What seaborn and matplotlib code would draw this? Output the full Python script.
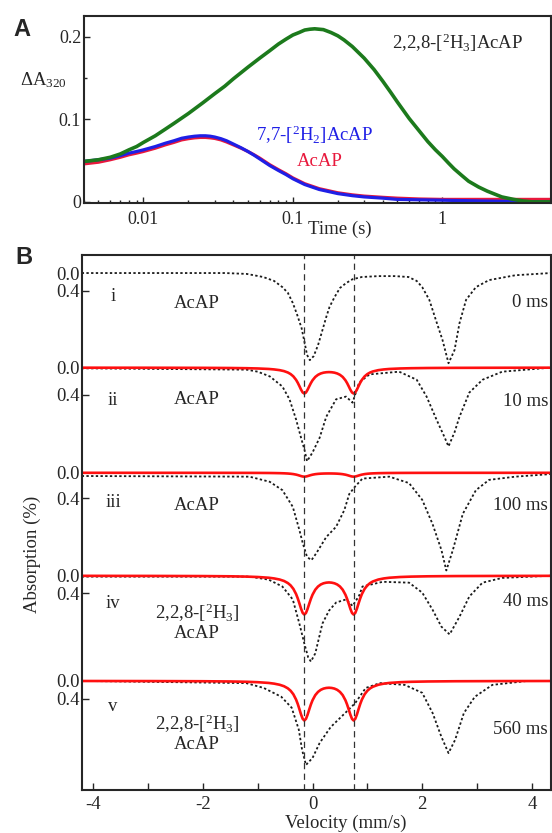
import matplotlib.pyplot as plt
import seaborn as sns

# ---- panel A: stopped-flow traces (time in s, dA320) ----
t_fast = [0.004, 0.005, 0.006, 0.007, 0.008, 0.009, 0.01, 0.012, 0.014, 0.016, 0.018,
          0.02, 0.022, 0.024, 0.026, 0.028, 0.03, 0.033, 0.036, 0.04, 0.045, 0.05, 0.055,
          0.06, 0.07, 0.08, 0.09, 0.1, 0.12, 0.15, 0.2, 0.25, 0.3, 0.4, 0.5, 0.7, 1.0,
          2.0, 5.3]
a_h2 = [0.049, 0.051, 0.053, 0.056, 0.059, 0.061, 0.063, 0.067, 0.071, 0.074, 0.077,
        0.0785, 0.0795, 0.080, 0.080, 0.0795, 0.0785, 0.0765, 0.074, 0.070, 0.0655, 0.061,
        0.0565, 0.052, 0.044, 0.038, 0.033, 0.028, 0.021, 0.015, 0.010, 0.0075, 0.006,
        0.0045, 0.003, 0.0025, 0.002, 0.001, 0.0]
a_acap = [0.046, 0.048, 0.051, 0.054, 0.057, 0.059, 0.061, 0.065, 0.069, 0.072, 0.075,
          0.0765, 0.0775, 0.078, 0.078, 0.0775, 0.0768, 0.075, 0.0725, 0.069, 0.065, 0.061,
          0.057, 0.053, 0.045, 0.039, 0.034, 0.029, 0.022, 0.016, 0.011, 0.0085, 0.007,
          0.0055, 0.0045, 0.0035, 0.003, 0.003, 0.003]
t_slow = [0.004, 0.0045, 0.005, 0.006, 0.007, 0.008, 0.009, 0.01, 0.012, 0.014, 0.016,
          0.02, 0.025, 0.03, 0.035, 0.04, 0.05, 0.06, 0.07, 0.08, 0.09, 0.1, 0.11, 0.12,
          0.13, 0.14, 0.16, 0.18, 0.2, 0.22, 0.25, 0.3, 0.35, 0.4, 0.45, 0.5, 0.6, 0.7,
          0.8, 0.9, 1.0, 1.1, 1.2, 1.35, 1.5, 1.75, 2.0, 2.5, 3.0, 3.5, 4.0, 5.3]
a_h3 = [0.049, 0.050, 0.051, 0.054, 0.058, 0.063, 0.067, 0.072, 0.080, 0.088, 0.095,
        0.107, 0.120, 0.131, 0.140, 0.149, 0.163, 0.174, 0.183, 0.191, 0.197, 0.202, 0.205,
        0.208, 0.209, 0.2095, 0.2085, 0.205, 0.201, 0.196, 0.188, 0.174, 0.160, 0.146,
        0.133, 0.121, 0.101, 0.086, 0.073, 0.063, 0.055, 0.047, 0.040, 0.032, 0.025,
        0.018, 0.013, 0.006, 0.003, 0.001, 0.0, 0.0]

# ---- panel B: Mossbauer spectra (velocity mm/s, absorption %) ----
vel_i = [-4.21, -1.6, -1.2, -0.9, -0.7, -0.55, -0.45, -0.36, -0.28, -0.2, -0.15, -0.1,
         -0.05, 0.02, 0.1, 0.18, 0.25, 0.31, 0.4, 0.5, 0.61, 0.73, 0.9, 1.2, 1.5, 1.75,
         1.9, 2.0, 2.13, 2.25, 2.37, 2.48, 2.59, 2.68, 2.8, 2.98, 3.22, 3.7, 4.34]
abs_i = [0.0, 0.0, 0.02, 0.09, 0.18, 0.32, 0.45, 0.68, 0.95, 1.25, 1.55, 1.86, 1.98,
         1.89, 1.64, 1.30, 1.0, 0.77, 0.55, 0.34, 0.23, 0.14, 0.09, 0.07, 0.07, 0.09,
         0.18, 0.32, 0.61, 1.07, 1.52, 2.05, 1.75, 1.14, 0.61, 0.32, 0.16, 0.05, 0.0]
vel_ii = [-4.21, -1.2, -1.0, -0.78, -0.55, -0.42, -0.3, -0.2, -0.15, -0.1, 0.0, 0.13,
          0.25, 0.43, 0.61, 0.73, 0.85, 1.04, 1.58, 1.9, 2.08, 2.26, 2.4, 2.48, 2.59,
          2.68, 2.86, 3.1, 3.46, 4.34]
abs_ii = [0.01, 0.03, 0.06, 0.13, 0.28, 0.47, 0.77, 1.07, 1.21, 1.39, 1.26, 1.04, 0.73,
          0.47, 0.43, 0.52, 0.22, 0.10, 0.06, 0.18, 0.43, 0.77, 1.02, 1.17, 0.96, 0.73,
          0.37, 0.18, 0.06, 0.0]
vel_iii = [-4.21, -1.15, -0.78, -0.55, -0.36, -0.24, -0.18, -0.1, -0.02, 0.07, 0.25,
           0.43, 0.58, 0.67, 0.77, 0.91, 1.4, 1.76, 2.0, 2.19, 2.35, 2.44, 2.56, 2.74,
           2.98, 3.22, 3.7, 4.34]
abs_iii = [0.05, 0.06, 0.14, 0.27, 0.53, 0.89, 1.09, 1.31, 1.36, 1.25, 1.0, 0.84, 0.58,
           0.33, 0.22, 0.09, 0.06, 0.16, 0.42, 0.8, 1.2, 1.52, 1.2, 0.64, 0.27, 0.11,
           0.06, 0.02]
vel_iv = [-4.21, -1.15, -0.8, -0.55, -0.36, -0.24, -0.15, -0.08, -0.03, 0.05, 0.18, 0.3,
          0.43, 0.61, 0.73, 0.85, 0.91, 1.28, 1.76, 2.0, 2.19, 2.35, 2.5, 2.68, 2.86,
          3.1, 3.46, 4.34]
abs_iv = [0.02, 0.02, 0.09, 0.25, 0.55, 1.11, 1.57, 1.89, 1.99, 1.8, 1.11, 0.81, 0.62,
          0.55, 0.7, 0.46, 0.25, 0.14, 0.16, 0.39, 0.79, 1.18, 1.36, 0.95, 0.48, 0.16,
          0.05, 0.0]
vel_v = [-4.21, -1.21, -0.89, -0.57, -0.38, -0.25, -0.19, -0.12, 0.0, 0.13, 0.33, 0.52,
         0.71, 0.78, 0.97, 1.23, 1.68, 2.0, 2.19, 2.35, 2.48, 2.6, 2.76, 2.96, 3.28,
         3.92, 4.34]
abs_v = [0.0, 0.05, 0.16, 0.36, 0.61, 1.11, 1.57, 1.91, 1.75, 1.41, 1.05, 0.82, 0.59,
         0.5, 0.16, 0.05, 0.09, 0.27, 0.73, 1.27, 1.64, 1.34, 0.73, 0.36, 0.09, 0.0, 0.0]

# red doublet (fit) profile, normalised to its deepest point
fit_v = [-4.21, -3, -2, -1.5, -1.2, -1.0, -0.8, -0.7, -0.6, -0.52, -0.45, -0.4, -0.35,
         -0.3, -0.27, -0.24, -0.21, -0.18, -0.15, -0.12, -0.09, -0.06, -0.03, 0.0, 0.05,
         0.1, 0.15, 0.2, 0.25, 0.3, 0.35, 0.4, 0.45, 0.5, 0.55, 0.6, 0.63, 0.66, 0.69,
         0.72, 0.75, 0.78, 0.81, 0.84, 0.87, 0.9, 0.95, 1.0, 1.05, 1.1, 1.2, 1.3, 1.4,
         1.6, 1.8, 2.1, 2.6, 3.5, 4.34]
fit_shape = [0.002, 0.004, 0.008, 0.014, 0.022, 0.032, 0.051, 0.069, 0.097, 0.134, 0.188,
             0.248, 0.337, 0.472, 0.581, 0.710, 0.846, 0.956, 1.0, 0.959, 0.852, 0.720,
             0.594, 0.488, 0.359, 0.277, 0.225, 0.194, 0.178, 0.172, 0.178, 0.194, 0.225,
             0.277, 0.359, 0.488, 0.594, 0.720, 0.852, 0.959, 1.0, 0.956, 0.846, 0.710,
             0.581, 0.472, 0.337, 0.248, 0.188, 0.147, 0.097, 0.069, 0.051, 0.032, 0.022,
             0.014, 0.008, 0.004, 0.002]

spectra = [(vel_i, abs_i), (vel_ii, abs_ii), (vel_iii, abs_iii), (vel_iv, abs_iv), (vel_v, abs_v)]
roman = ["i", "ii", "iii", "iv", "v"]
samples = ["AcAP", "AcAP", "AcAP", "2,2,8-[$^{2}$H$_{3}$]\nAcAP", "2,2,8-[$^{2}$H$_{3}$]\nAcAP"]
times = ["0 ms", "10 ms", "100 ms", "40 ms", "560 ms"]
fit_depth = [None, 0.385, 0.06, 0.9, 0.9]
offsets = [0.41, 2.56, 4.95, 7.29, 9.68]
gains = [1.0, 1.53, 1.46, 0.98, 1.0]
line_v = [-0.15, 0.75]

sns.set_style("ticks")
plt.rcParams["font.family"] = ["Liberation Serif", "DejaVu Serif"]
plt.rcParams["mathtext.fontset"] = "custom"
plt.rcParams["mathtext.rm"] = "Liberation Serif"
plt.rcParams["mathtext.it"] = "Liberation Serif:italic"
plt.rcParams["axes.unicode_minus"] = False
plt.rcParams["font.size"] = 13.5

W, H = 552, 833
fig = plt.figure(figsize=(W / 100, H / 100), dpi=100)


def box(l, t, r, b):
    return [l / W, 1 - b / H, (r - l) / W, (b - t) / H]


def ftext(x, y, s, **kw):
    fig.text(x / W, 1 - y / H, s, **kw)


red_a, blue_a, green_a = "#e8183c", "#1f1fe6", "#1c7a1c"

# panel A
axA = fig.add_axes(box(84, 16, 550.5, 202.7))
sns.lineplot(x=t_fast, y=a_acap, ax=axA, color=red_a, lw=2.3, sort=False, estimator=None)
sns.lineplot(x=t_fast, y=a_h2, ax=axA, color=blue_a, lw=2.3, sort=False, estimator=None)
sns.lineplot(x=t_slow, y=a_h3, ax=axA, color=green_a, lw=2.6, sort=False, estimator=None)
axA.set_xscale("log")
axA.set_xlim(0.004, 5.3)
axA.set_ylim(-0.001, 0.225)
axA.set_xticks([0.01, 0.1, 1])
axA.set_xticklabels(["0.01", "0.1", "1"])
axA.set_yticks([0, 0.1, 0.2])
axA.set_yticklabels(["0", "0.1", "0.2"])
axA.set_yticks([0.05, 0.15], minor=True)
axA.tick_params(which="both", direction="in", top=False, right=False, width=1, labelsize=13)
axA.tick_params(which="major", length=4.5)
axA.tick_params(which="minor", length=2.5)
axA.tick_params(axis="x", pad=6)
axA.tick_params(axis="y", pad=2)
axA.set_xlabel("")
axA.set_ylabel("")
for s in axA.spines.values():
    s.set_linewidth(1.5)

ftext(392, 43, r"2,2,8-[$^{2}$H$_{3}$]AcAP", ha="left", va="center")
ftext(315, 135, r"7,7-[$^{2}$H$_{2}$]AcAP", color=blue_a, ha="center", va="center")
ftext(320, 162, "AcAP", color=red_a, ha="center", va="center")
ftext(43, 80, r"ΔA$_{320}$", ha="center", va="center")
ftext(340, 229, "Time (s)", ha="center", va="center")
ftext(22, 29, "A", family="Liberation Sans", weight="bold", size=17, ha="center", va="center")
ftext(24, 258, "B", family="Liberation Sans", weight="bold", size=17, ha="center", va="center")

# panel B
axB = fig.add_axes(box(81.7, 255, 550.5, 790))
for k, (vel, ab) in enumerate(spectra):
    y = [offsets[k] + gains[k] * a for a in ab]
    sns.lineplot(x=vel, y=y, ax=axB, color="#1a1a1a", lw=1.3, sort=False, estimator=None,
                 linestyle=(0, (1.3, 1.3)))
for k, d in enumerate(fit_depth):
    if d is None:
        continue
    y = [offsets[k] + gains[k] * d * f for f in fit_shape]
    sns.lineplot(x=fit_v, y=y, ax=axB, color="#ff1010", lw=1.9, sort=False, estimator=None)
for v in line_v:
    axB.axvline(v, color="#333333", lw=0.9, linestyle=(0, (5, 3.5)))

axB.set_xlim(-4.21, 4.34)
axB.set_ylim(535 / 44, 0)
axB.set_xticks([-4, -2, 0, 2, 4])
axB.set_xticklabels(["-4", "-2", "0", "2", "4"])
axB.set_xticks([-3, -1, 1, 3], minor=True)
yt, yl = [], []
for k in range(len(offsets)):
    yt += [offsets[k], offsets[k] + 0.4 * gains[k]]
    yl += ["0.0", "0.4"]
axB.set_yticks(yt)
axB.set_yticklabels(yl)
axB.tick_params(which="both", direction="in", top=False, right=False, width=1,
                length=5, labelsize=13.5, pad=1.5)
axB.tick_params(axis="x", pad=4)
for i, tk in enumerate(axB.yaxis.get_major_ticks()):
    if i % 2 == 0:
        tk.tick1line.set_visible(False)
axB.set_xlabel("")
axB.set_ylabel("")
for s in axB.spines.values():
    s.set_linewidth(1.5)

roman_y = [301, 405, 507, 608, 711]
sample_y = [304, 400, 506, 622, 733]
time_y = [302, 401, 505, 601, 730]
for k in range(5):
    ftext(113, roman_y[k], roman[k], ha="center", va="baseline")
    ftext(197, sample_y[k], samples[k], ha="center", va="center", linespacing=1.05)
    ftext(548, time_y[k], times[k], ha="right", va="center")

ftext(32, 554, "Absorption (%)", rotation=90, ha="center", va="center")
ftext(346, 823, "Velocity (mm/s)", ha="center", va="center")

fig.savefig("out.png", dpi=100)
